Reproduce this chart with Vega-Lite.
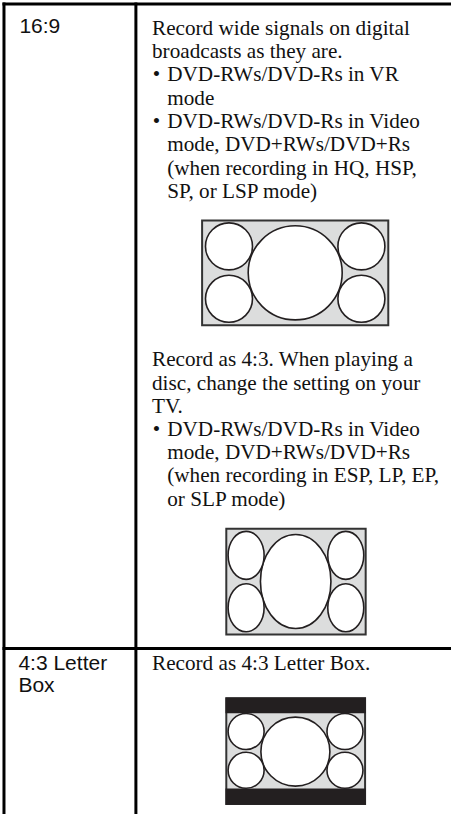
{
  "$schema": "https://vega.github.io/schema/vega-lite/v6.json",
  "width": 453,
  "height": 816,
  "autosize": {"type": "fit", "contains": "padding"},
  "padding": 0,
  "background": "white",
  "config": {"view": {"stroke": null}},
  "datasets": {
    "lines": [
      {"x": 2.5, "x2": 453, "y": 4, "y2": 4},
      {"x": 4, "x2": 4, "y": 2.5, "y2": 816},
      {"x": 136.5, "x2": 136.5, "y": 2.5, "y2": 816},
      {"x": 2.5, "x2": 453, "y": 650, "y2": 650}
    ],
    "labels": [
      {"t": "16:9", "x": 19.5, "y": 33.3},
      {"t": "4:3 Letter", "x": 18.5, "y": 671.7},
      {"t": "Box", "x": 18.5, "y": 694}
    ],
    "body": [
      {"t": "Record wide signals on digital", "x": 152.7, "y": 34.7},
      {"t": "broadcasts as they are.", "x": 152.7, "y": 58.1},
      {"t": "•", "x": 153.5, "y": 81.5},
      {"t": "DVD-RWs/DVD-Rs in VR", "x": 168, "y": 81.5},
      {"t": "mode", "x": 168, "y": 104.9},
      {"t": "•", "x": 153.5, "y": 128.3},
      {"t": "DVD-RWs/DVD-Rs in Video", "x": 168, "y": 128.3},
      {"t": "mode, DVD+RWs/DVD+Rs", "x": 168, "y": 151.7},
      {"t": "(when recording in HQ, HSP,", "x": 168, "y": 175.1},
      {"t": "SP, or LSP mode)", "x": 168, "y": 198.5},
      {"t": "Record as 4:3. When playing a", "x": 152.7, "y": 367.3},
      {"t": "disc, change the setting on your", "x": 152.7, "y": 390.5},
      {"t": "TV.", "x": 152.7, "y": 413.8},
      {"t": "•", "x": 153.5, "y": 437},
      {"t": "DVD-RWs/DVD-Rs in Video", "x": 168, "y": 437},
      {"t": "mode, DVD+RWs/DVD+Rs", "x": 168, "y": 460.3},
      {"t": "(when recording in ESP, LP, EP,", "x": 168, "y": 483.5},
      {"t": "or SLP mode)", "x": 168, "y": 506.8},
      {"t": "Record as 4:3 Letter Box.", "x": 152.7, "y": 671.7}
    ],
    "frames": [
      {"x": 203, "x2": 390, "y": 221, "y2": 326},
      {"x": 227.3, "x2": 367.3, "y": 530, "y2": 636},
      {"x": 227.3, "x2": 366.7, "y": 700, "y2": 806}
    ],
    "bars": [
      {"x": 226.5, "x2": 367.5, "y": 699.3, "y2": 715},
      {"x": 226.5, "x2": 367.5, "y": 790.5, "y2": 806.7}
    ],
    "circles": [
      {"x": 296.5, "y": 273.5, "d": 94},
      {"x": 230, "y": 247, "d": 47},
      {"x": 230, "y": 299.5, "d": 47},
      {"x": 363, "y": 247, "d": 47},
      {"x": 363, "y": 299.5, "d": 47},
      {"x": 296.7, "y": 753.5, "d": 69},
      {"x": 247.2, "y": 733.3, "d": 36},
      {"x": 247.2, "y": 772.2, "d": 36},
      {"x": 346.5, "y": 733.3, "d": 36},
      {"x": 346.5, "y": 772.2, "d": 36}
    ],
    "ellipses": [
      {"x": 297, "y": 583, "d": 94},
      {"x": 247.2, "y": 556.7, "d": 48},
      {"x": 247.2, "y": 609.2, "d": 48},
      {"x": 347.3, "y": 556.7, "d": 48},
      {"x": 347.3, "y": 609.2, "d": 48}
    ]
  },
  "layer": [
    {
      "data": {"name": "frames"},
      "mark": {"type": "rect", "fill": "#dcdddd", "stroke": "#333333", "strokeWidth": 2},
      "encoding": {
        "x": {"field": "x", "type": "quantitative", "scale": {"domain": [0, 453], "nice": false, "zero": false}, "axis": null},
        "x2": {"field": "x2"},
        "y": {"field": "y", "type": "quantitative", "scale": {"domain": [0, 816], "nice": false, "zero": false, "reverse": true}, "axis": null},
        "y2": {"field": "y2"}
      }
    },
    {
      "data": {"name": "circles"},
      "mark": {"type": "point", "shape": "circle", "filled": false, "fill": "white", "fillOpacity": 1, "opacity": 1, "stroke": "#231f20", "strokeWidth": 1.6},
      "encoding": {
        "x": {"field": "x", "type": "quantitative", "axis": null},
        "y": {"field": "y", "type": "quantitative", "axis": null},
        "size": {"field": "d", "type": "quantitative", "scale": {"type": "pow", "exponent": 2, "domain": [0, 100], "range": [0, 10000]}, "legend": null}
      }
    },
    {
      "data": {"name": "ellipses"},
      "mark": {"type": "point", "shape": "M -0.75 0 A 0.75 1 0 1 0 0.75 0 A 0.75 1 0 1 0 -0.75 0 Z", "filled": false, "fill": "white", "fillOpacity": 1, "opacity": 1, "stroke": "#231f20", "strokeWidth": 1.6},
      "encoding": {
        "x": {"field": "x", "type": "quantitative", "axis": null},
        "y": {"field": "y", "type": "quantitative", "axis": null},
        "size": {"field": "d", "type": "quantitative", "legend": null}
      }
    },
    {
      "data": {"name": "bars"},
      "mark": {"type": "rect", "fill": "#231f20"},
      "encoding": {
        "x": {"field": "x", "type": "quantitative", "axis": null},
        "x2": {"field": "x2"},
        "y": {"field": "y", "type": "quantitative", "axis": null},
        "y2": {"field": "y2"}
      }
    },
    {
      "data": {"name": "lines"},
      "mark": {"type": "rule", "color": "#000000", "strokeWidth": 3},
      "encoding": {
        "x": {"field": "x", "type": "quantitative", "axis": null},
        "x2": {"field": "x2"},
        "y": {"field": "y", "type": "quantitative", "axis": null},
        "y2": {"field": "y2"}
      }
    },
    {
      "data": {"name": "labels"},
      "mark": {"type": "text", "align": "left", "baseline": "alphabetic", "font": "Liberation Sans", "fontSize": 21, "color": "#111111"},
      "encoding": {
        "x": {"field": "x", "type": "quantitative", "axis": null},
        "y": {"field": "y", "type": "quantitative", "axis": null},
        "text": {"field": "t"}
      }
    },
    {
      "data": {"name": "body"},
      "mark": {"type": "text", "align": "left", "baseline": "alphabetic", "font": "Liberation Serif", "fontSize": 21.2, "color": "#111111"},
      "encoding": {
        "x": {"field": "x", "type": "quantitative", "axis": null},
        "y": {"field": "y", "type": "quantitative", "axis": null},
        "text": {"field": "t"}
      }
    }
  ]
}
